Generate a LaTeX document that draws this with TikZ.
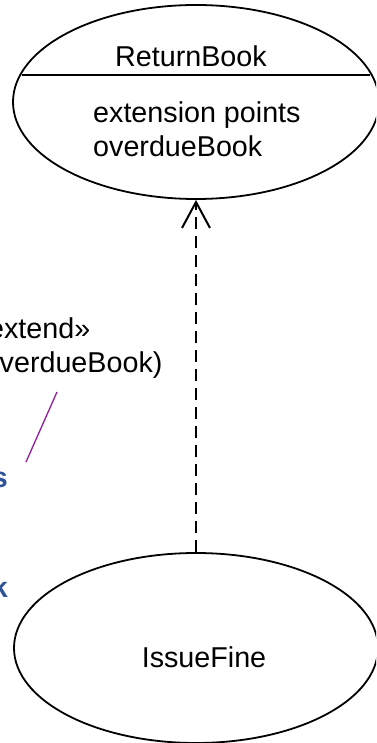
\documentclass[tikz,border=0pt]{standalone}
\usepackage{fontspec}
\setmainfont{Liberation Sans}
\usetikzlibrary{shapes.geometric,arrows.meta}
\definecolor{linkblue}{HTML}{2F5597}
\definecolor{notepurple}{HTML}{8E1E99}
\begin{document}
\begin{tikzpicture}[x=1pt,y=-1pt,
  usecase/.style={draw=black,line width=1.8pt,ellipse,inner sep=0pt},
  lbl/.style={font=\fontsize{28.7}{34}\selectfont,inner sep=0pt},
  bluelbl/.style={font=\fontsize{28.7}{34}\selectfont\bfseries,text=linkblue,inner sep=0pt},
  extendarrow/.style={draw=black,line width=2.2pt,dash pattern=on 12pt off 7pt,
    -{Straight Barb[length=26pt,width=28pt,line width=2pt]}},
]
\useasboundingbox (0,0) rectangle (376,743);
\clip (0,0) rectangle (376,743);
% use cases
\node[usecase,minimum width=366pt,minimum height=194pt] (ret) at (196,102) {};
\node[usecase,minimum width=364pt,minimum height=190pt] (iss) at (196,648) {};
% compartment line
\coordinate (cl) at (22,75);
\coordinate (cr) at (370,75);
\draw[line width=1.8pt] (cl) -- (cr);
% texts
\node[lbl,anchor=base west] (rname) at (115,67) {ReturnBook};
\node[lbl,anchor=base west] (ep) at (93,123) {extension points};
\node[lbl,anchor=base west] (od) at (93,157) {overdueBook};
\node[lbl,anchor=base] (iname) at (204,667) {IssueFine};
% extend relation
\draw[extendarrow] (iss.north) -- (ret.south);
\node[lbl,anchor=base west] (st) at (-28,338) {«extend»};
\node[lbl,anchor=base west] (cond) at (-26,372) {(overdueBook)};
% note anchor line
\coordinate (p1) at (57,392);
\coordinate (p2) at (26,462);
\draw[notepurple,line width=1.3pt] (p1) -- (p2);
% truncated blue labels
\node[bluelbl,anchor=base east] (bs) at (8,487) {s};
\node[bluelbl,anchor=base east] (bk) at (8,597) {k};
\end{tikzpicture}
\end{document}
